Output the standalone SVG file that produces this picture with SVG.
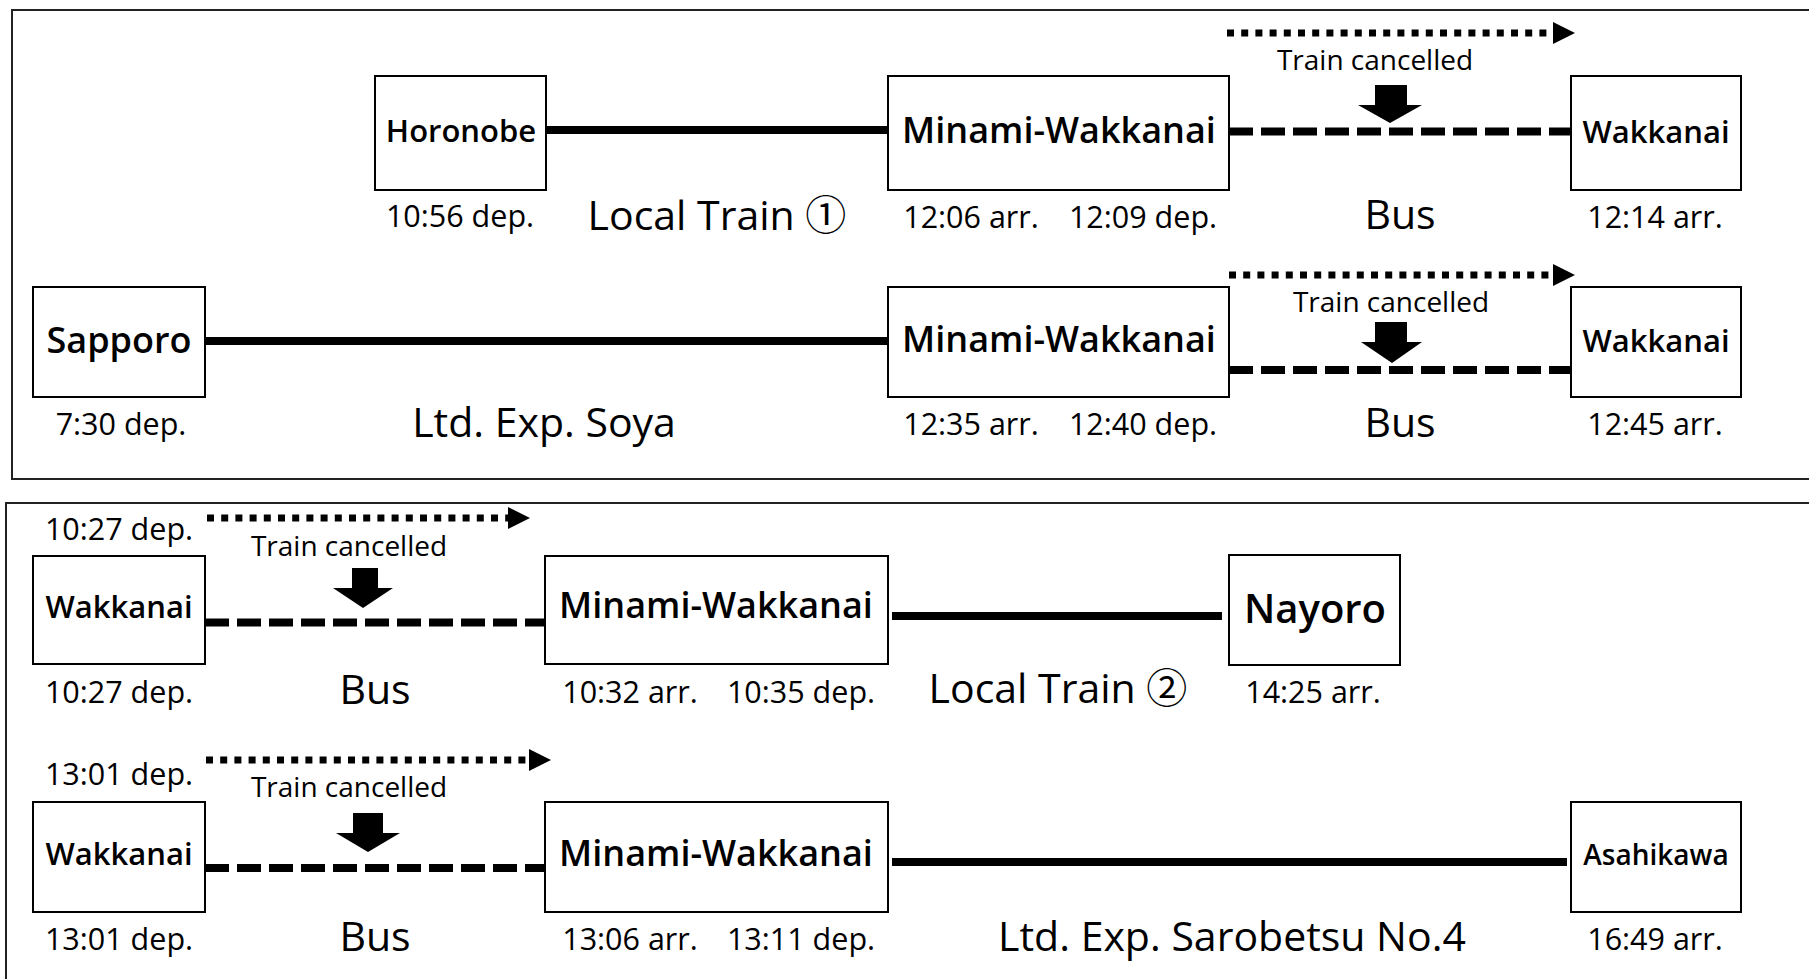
<svg xmlns="http://www.w3.org/2000/svg" width="1809" height="979" viewBox="0 0 1809 979">
<style>
text{font-family:"Open Sans","Noto Sans","Noto Sans CJK JP",sans-serif;fill:#000;text-anchor:middle}
.frame{fill:none;stroke:#222;stroke-width:2}
.box{fill:#fff;stroke:#000;stroke-width:2}
.stn{font-weight:600}
.t{font-size:30.5px}
.tc{font-size:28px}
.big{font-size:41px}
.solid{stroke:#000;stroke-width:8;fill:none}
.dash{stroke:#000;stroke-width:8;fill:none;stroke-dasharray:24 8}
.dot{stroke:#000;stroke-width:7;fill:none;stroke-dasharray:7 7.2}
.head{fill:#000}
</style>
<rect class="frame" x="12" y="10" width="1900" height="469"/>
<rect class="frame" x="6" y="503" width="1900" height="600"/>

<g id="connectors">
<line class="solid" x1="540" y1="130" x2="888" y2="130"/>
<line class="dash" x1="1229" y1="131.5" x2="1571" y2="131.5"/>
<line class="dot" x1="1227" y1="33" x2="1553" y2="33"/>
<polygon class="head" points="1553,22 1575,33 1553,44"/>
<polygon class="head" points="1375,85 1407,85 1407,105 1422,105 1390,123 1358,105 1375,105"/>
<line class="solid" x1="205" y1="341" x2="888" y2="341"/>
<line class="dash" x1="1229" y1="370" x2="1571" y2="370"/>
<line class="dot" x1="1229" y1="275" x2="1553" y2="275"/>
<polygon class="head" points="1553,264 1575,275 1553,286"/>
<polygon class="head" points="1375,322 1407,322 1407,342 1422,342 1392,363 1361,342 1375,342"/>
<line class="dash" x1="205" y1="622.5" x2="547" y2="622.5"/>
<line class="solid" x1="892" y1="616" x2="1222" y2="616"/>
<line class="dot" x1="207" y1="518" x2="508" y2="518"/>
<polygon class="head" points="508,507 530,518 508,529"/>
<polygon class="head" points="352,568 378,568 378,588 393,588 363,608 333,588 352,588"/>
<line class="dash" x1="205" y1="868" x2="547" y2="868"/>
<line class="solid" x1="892" y1="862" x2="1567" y2="862"/>
<line class="dot" x1="206" y1="760" x2="529" y2="760"/>
<polygon class="head" points="529,749 551,760 529,771"/>
<polygon class="head" points="353,813 383,813 383,833 400,833 368,852 336,833 353,833"/>
</g>

<g id="node-horonobe"><rect class="box" x="375" y="76" width="171" height="114"/><text class="stn" x="461" y="142" font-size="31">Horonobe</text></g>
<g id="node-minami-a"><rect class="box" x="888" y="76" width="341" height="114"/><text class="stn" x="1059" y="143" font-size="36">Minami-Wakkanai</text></g>
<g id="node-wakkanai-a"><rect class="box" x="1571" y="76" width="170" height="114"/><text class="stn" x="1656" y="143" font-size="31">Wakkanai</text></g>

<g id="node-sapporo"><rect class="box" x="33" y="287" width="172" height="110"/><text class="stn" x="119" y="353" font-size="36">Sapporo</text></g>
<g id="node-minami-b"><rect class="box" x="888" y="287" width="341" height="110"/><text class="stn" x="1059" y="352" font-size="36">Minami-Wakkanai</text></g>
<g id="node-wakkanai-b"><rect class="box" x="1571" y="287" width="170" height="110"/><text class="stn" x="1656" y="352" font-size="31">Wakkanai</text></g>

<g id="node-wakkanai-c"><rect class="box" x="33" y="556" width="172" height="108"/><text class="stn" x="119" y="618" font-size="31">Wakkanai</text></g>
<g id="node-minami-c"><rect class="box" x="545" y="556" width="343" height="108"/><text class="stn" x="716" y="618" font-size="36">Minami-Wakkanai</text></g>
<g id="node-nayoro"><rect class="box" x="1229" y="555" width="171" height="110"/><text class="stn" x="1315" y="623" font-size="40">Nayoro</text></g>

<g id="node-wakkanai-d"><rect class="box" x="33" y="802" width="172" height="110"/><text class="stn" x="119" y="865" font-size="31">Wakkanai</text></g>
<g id="node-minami-d"><rect class="box" x="545" y="802" width="343" height="110"/><text class="stn" x="716" y="866" font-size="36">Minami-Wakkanai</text></g>
<g id="node-asahikawa"><rect class="box" x="1571" y="802" width="170" height="110"/><text class="stn" x="1656" y="865" font-size="28">Asahikawa</text></g>

<g id="labels">
<text class="tc" x="1375" y="70">Train cancelled</text>
<text class="t" x="460" y="227">10:56 dep.</text>
<text class="big" x="717" y="230">Local Train ①</text>
<text class="t" x="971" y="228">12:06 arr.</text>
<text class="t" x="1143" y="228">12:09 dep.</text>
<text class="big" x="1400" y="229">Bus</text>
<text class="t" x="1655" y="228">12:14 arr.</text>

<text class="tc" x="1391" y="312">Train cancelled</text>
<text class="t" x="121" y="435">7:30 dep.</text>
<text class="big" x="544" y="437">Ltd. Exp. Soya</text>
<text class="t" x="971" y="435">12:35 arr.</text>
<text class="t" x="1143" y="435">12:40 dep.</text>
<text class="big" x="1400" y="437">Bus</text>
<text class="t" x="1655" y="435">12:45 arr.</text>

<text class="t" x="119" y="540">10:27 dep.</text>
<text class="tc" x="349" y="556">Train cancelled</text>
<text class="t" x="119" y="703">10:27 dep.</text>
<text class="big" x="375" y="704">Bus</text>
<text class="t" x="630" y="703">10:32 arr.</text>
<text class="t" x="801" y="703">10:35 dep.</text>
<text class="big" x="1058" y="703">Local Train ②</text>
<text class="t" x="1313" y="703">14:25 arr.</text>

<text class="t" x="119" y="785">13:01 dep.</text>
<text class="tc" x="349" y="797">Train cancelled</text>
<text class="t" x="119" y="950">13:01 dep.</text>
<text class="big" x="375" y="951">Bus</text>
<text class="t" x="630" y="950">13:06 arr.</text>
<text class="t" x="801" y="950">13:11 dep.</text>
<text class="big" x="1232" y="951">Ltd. Exp. Sarobetsu No.4</text>
<text class="t" x="1655" y="950">16:49 arr.</text>
</g>
</svg>
